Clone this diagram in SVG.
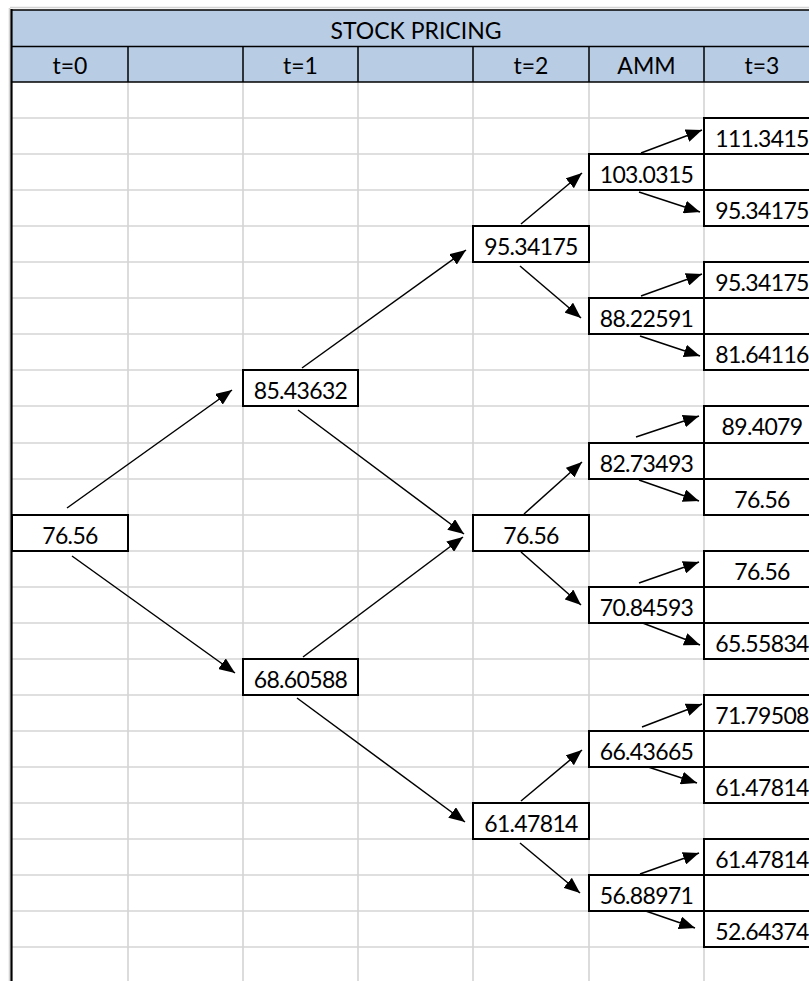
<svg xmlns="http://www.w3.org/2000/svg" width="809" height="981" viewBox="0 0 809 981">
  <style>
    .grid line { stroke: #d4d4d4; stroke-width: 1.6; }
    .hdr { fill: #b8cce4; }
    .hline { stroke: #000; stroke-width: 1.5; fill: none; }
    .txt { font-family: Lato, "Liberation Sans", sans-serif; font-size: 23px; fill: #000; text-anchor: middle; }
    .node text { letter-spacing: -0.65px; }
    .node rect { fill: #fff; stroke: #000; stroke-width: 2; }
    .conn line { stroke: #000; stroke-width: 1.5; marker-end: url(#arrow); }
  </style>
  <defs>
    <marker id="arrow" viewBox="0 0 16 13" refX="16" refY="6.5" markerWidth="16" markerHeight="13" markerUnits="userSpaceOnUse" orient="auto">
      <path d="M0,0 L16,6.5 L0,13 Z" fill="#000"/>
    </marker>
  </defs>

  <rect width="809" height="981" fill="#fff"/>

  <!-- sheet gridlines -->
  <g class="grid">
    <line x1="128" y1="82" x2="128" y2="981"/>
    <line x1="243" y1="82" x2="243" y2="981"/>
    <line x1="358" y1="82" x2="358" y2="981"/>
    <line x1="473" y1="82" x2="473" y2="981"/>
    <line x1="589" y1="82" x2="589" y2="981"/>
    <line x1="704" y1="82" x2="704" y2="981"/>
    <line x1="12" y1="118" x2="809" y2="118"/>
    <line x1="12" y1="154" x2="809" y2="154"/>
    <line x1="12" y1="190" x2="809" y2="190"/>
    <line x1="12" y1="226" x2="809" y2="226"/>
    <line x1="12" y1="262" x2="809" y2="262"/>
    <line x1="12" y1="298" x2="809" y2="298"/>
    <line x1="12" y1="334" x2="809" y2="334"/>
    <line x1="12" y1="370" x2="809" y2="370"/>
    <line x1="12" y1="406" x2="809" y2="406"/>
    <line x1="12" y1="443" x2="809" y2="443"/>
    <line x1="12" y1="479" x2="809" y2="479"/>
    <line x1="12" y1="515" x2="809" y2="515"/>
    <line x1="12" y1="551" x2="809" y2="551"/>
    <line x1="12" y1="587" x2="809" y2="587"/>
    <line x1="12" y1="623" x2="809" y2="623"/>
    <line x1="12" y1="659" x2="809" y2="659"/>
    <line x1="12" y1="695" x2="809" y2="695"/>
    <line x1="12" y1="731" x2="809" y2="731"/>
    <line x1="12" y1="767" x2="809" y2="767"/>
    <line x1="12" y1="803" x2="809" y2="803"/>
    <line x1="12" y1="839" x2="809" y2="839"/>
    <line x1="12" y1="875" x2="809" y2="875"/>
    <line x1="12" y1="911" x2="809" y2="911"/>
    <line x1="12" y1="947" x2="809" y2="947"/>
    <line x1="10" y1="7.5" x2="809" y2="7.5"/>
    <line x1="9.5" y1="8" x2="9.5" y2="981"/>
  </g>

  <!-- header band -->
  <g id="header">
    <rect class="hdr" x="12" y="10" width="797" height="72"/>
    <line class="hline" x1="12" y1="46.5" x2="809" y2="46.5"/>
    <line class="hline" x1="12" y1="82" x2="809" y2="82" stroke-width="2"/>
    <line class="hline" x1="12" y1="10" x2="809" y2="10" stroke-width="2"/>
    <line class="hline" x1="128" y1="46" x2="128" y2="82"/>
    <line class="hline" x1="243" y1="46" x2="243" y2="82"/>
    <line class="hline" x1="358" y1="46" x2="358" y2="82"/>
    <line class="hline" x1="473" y1="46" x2="473" y2="82"/>
    <line class="hline" x1="589" y1="46" x2="589" y2="82"/>
    <line class="hline" x1="704" y1="46" x2="704" y2="82"/>
    <text class="txt" x="416" y="38.5">STOCK PRICING</text>
    <text class="txt" x="70" y="74">t=0</text>
    <text class="txt" x="300.5" y="74">t=1</text>
    <text class="txt" x="531" y="74">t=2</text>
    <text class="txt" x="646.5" y="74">AMM</text>
    <text class="txt" x="762" y="74">t=3</text>
  </g>
  <line x1="11.5" y1="9" x2="11.5" y2="981" stroke="#000" stroke-width="2.2"/>

  <!-- connectors -->
  <g id="connectors" class="conn">
    <line x1="67" y1="508" x2="232" y2="390"/>
    <line x1="72" y1="556" x2="235" y2="673"/>
    <line x1="302" y1="368" x2="466" y2="250"/>
    <line x1="298" y1="410" x2="464" y2="534"/>
    <line x1="303" y1="657" x2="463" y2="537"/>
    <line x1="297" y1="698" x2="465" y2="822"/>
    <line x1="521" y1="224" x2="582" y2="173"/>
    <line x1="520" y1="266" x2="581" y2="318"/>
    <line x1="524" y1="514" x2="582" y2="462"/>
    <line x1="521" y1="552" x2="581" y2="605"/>
    <line x1="521" y1="801" x2="582" y2="750"/>
    <line x1="520" y1="843" x2="580" y2="893"/>
    <line x1="641" y1="153" x2="702" y2="130"/>
    <line x1="639" y1="192" x2="700" y2="212"/>
    <line x1="641" y1="296" x2="702" y2="274"/>
    <line x1="640" y1="336" x2="700" y2="356"/>
    <line x1="636" y1="437" x2="699" y2="416"/>
    <line x1="639" y1="480" x2="699" y2="501"/>
    <line x1="639" y1="583" x2="699" y2="562"/>
    <line x1="640" y1="622" x2="700" y2="645"/>
    <line x1="642" y1="727" x2="702" y2="704"/>
    <line x1="636" y1="763" x2="697" y2="783"/>
    <line x1="640" y1="874" x2="699" y2="853"/>
    <line x1="637" y1="908" x2="695" y2="928"/>
  </g>

  <!-- t=0 -->
  <g id="n-t0" class="node"><rect x="12" y="515" width="116" height="36"/><text class="txt" x="70" y="543.5">76.56</text></g>
  <!-- t=1 -->
  <g id="n-t1-up" class="node"><rect x="243" y="370" width="115" height="36"/><text class="txt" x="300.5" y="398.5">85.43632</text></g>
  <g id="n-t1-down" class="node"><rect x="243" y="659" width="115" height="36"/><text class="txt" x="300.5" y="687.5">68.60588</text></g>
  <!-- t=2 -->
  <g id="n-t2-uu" class="node"><rect x="473" y="226" width="116" height="36"/><text class="txt" x="531" y="254.5">95.34175</text></g>
  <g id="n-t2-ud" class="node"><rect x="473" y="515" width="116" height="36"/><text class="txt" x="531" y="543.5">76.56</text></g>
  <g id="n-t2-dd" class="node"><rect x="473" y="803" width="116" height="36"/><text class="txt" x="531" y="831.5">61.47814</text></g>
  <!-- AMM -->
  <g id="n-amm-1" class="node"><rect x="589" y="154" width="115" height="36"/><text class="txt" x="646.5" y="182.5">103.0315</text></g>
  <g id="n-amm-2" class="node"><rect x="589" y="298" width="115" height="36"/><text class="txt" x="646.5" y="326.5">88.22591</text></g>
  <g id="n-amm-3" class="node"><rect x="589" y="443" width="115" height="36"/><text class="txt" x="646.5" y="471.5">82.73493</text></g>
  <g id="n-amm-4" class="node"><rect x="589" y="587" width="115" height="36"/><text class="txt" x="646.5" y="615.5">70.84593</text></g>
  <g id="n-amm-5" class="node"><rect x="589" y="731" width="115" height="36"/><text class="txt" x="646.5" y="759.5">66.43665</text></g>
  <g id="n-amm-6" class="node"><rect x="589" y="875" width="115" height="36"/><text class="txt" x="646.5" y="903.5">56.88971</text></g>
  <!-- t=3 -->
  <g id="n-t3-1" class="node"><rect x="704" y="118" width="116" height="36"/><text class="txt" x="762" y="146.5">111.3415</text></g>
  <g id="n-t3-2" class="node"><rect x="704" y="190" width="116" height="36"/><text class="txt" x="762" y="218.5">95.34175</text></g>
  <g id="n-t3-3" class="node"><rect x="704" y="262" width="116" height="36"/><text class="txt" x="762" y="290.5">95.34175</text></g>
  <g id="n-t3-4" class="node"><rect x="704" y="334" width="116" height="36"/><text class="txt" x="762" y="362.5">81.64116</text></g>
  <g id="n-t3-5" class="node"><rect x="704" y="406" width="116" height="37"/><text class="txt" x="762" y="435">89.4079</text></g>
  <g id="n-t3-6" class="node"><rect x="704" y="479" width="116" height="36"/><text class="txt" x="762" y="507.5">76.56</text></g>
  <g id="n-t3-7" class="node"><rect x="704" y="551" width="116" height="36"/><text class="txt" x="762" y="579.5">76.56</text></g>
  <g id="n-t3-8" class="node"><rect x="704" y="623" width="116" height="36"/><text class="txt" x="762" y="651.5">65.55834</text></g>
  <g id="n-t3-9" class="node"><rect x="704" y="695" width="116" height="36"/><text class="txt" x="762" y="723.5">71.79508</text></g>
  <g id="n-t3-10" class="node"><rect x="704" y="767" width="116" height="36"/><text class="txt" x="762" y="795.5">61.47814</text></g>
  <g id="n-t3-11" class="node"><rect x="704" y="839" width="116" height="36"/><text class="txt" x="762" y="867.5">61.47814</text></g>
  <g id="n-t3-12" class="node"><rect x="704" y="911" width="116" height="36"/><text class="txt" x="762" y="939.5">52.64374</text></g>
</svg>
